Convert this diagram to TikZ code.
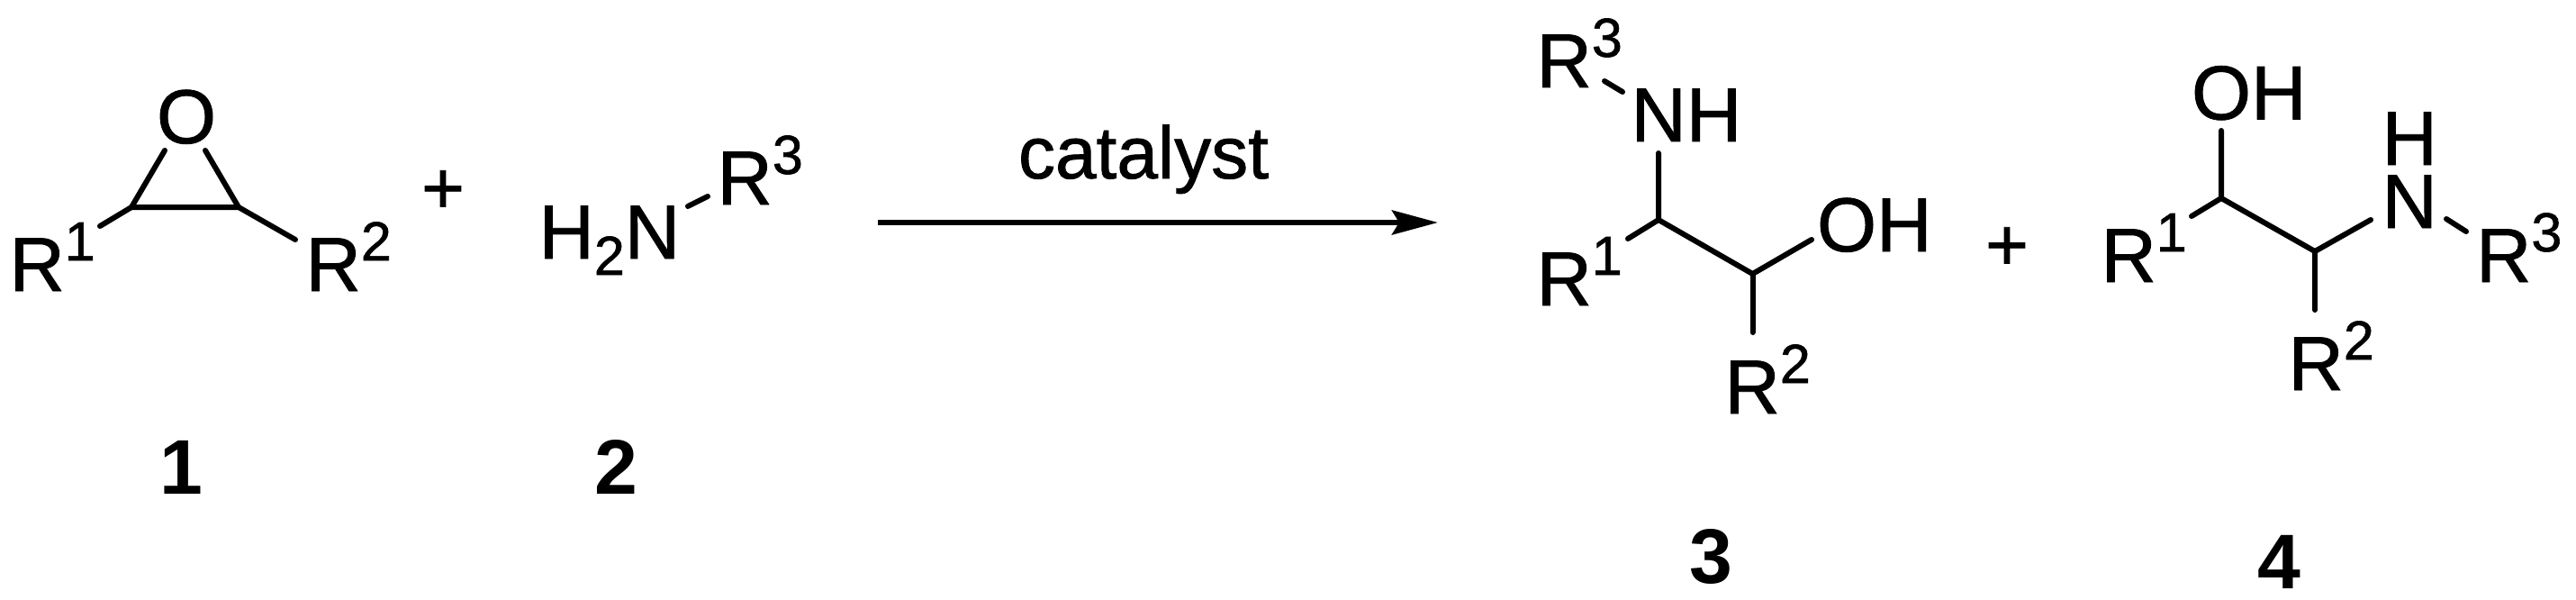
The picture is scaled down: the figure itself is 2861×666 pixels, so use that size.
\documentclass[tikz,border=0pt]{standalone}
\usepackage{fontspec}
\setmainfont{Liberation Sans}[UprightFeatures={FakeBold=1}]
\usetikzlibrary{arrows.meta}
\newcommand{\Rgroup}[1]{R\raisebox{34pt}{\fontsize{61pt}{61pt}\selectfont #1}}
\tikzset{
  atom/.style={inner sep=0pt,outer sep=0pt,anchor=base west,font=\fontsize{85pt}{85pt}\selectfont},
  rxnlabel/.style={inner sep=0pt,outer sep=0pt,anchor=base west,font=\fontsize{82pt}{82pt}\selectfont},
  cpdlabel/.style={inner sep=0pt,outer sep=0pt,anchor=base,font=\fontsize{86pt}{86pt}\selectfont\bfseries},
  plussign/.style={inner sep=0pt,outer sep=0pt,anchor=center,font=\fontsize{82pt}{82pt}\selectfont},
  bond/.style={draw=black,line width=6pt,line cap=round,line join=round},
  rxnarrow/.style={draw=black,line width=6pt,-{Stealth[length=51pt,width=27pt,inset=8pt]}}
}
\begin{document}
\begin{tikzpicture}[x=1pt,y=-1pt]
\useasboundingbox (0,0) rectangle (2861,666);
\fill[white] (0,0) rectangle (2861,666);
% ---- compound 1
\node[atom] (o1) at (174,159) {O};
\node[atom] (r1a) at (10.5,323) {\Rgroup{1}};
\node[atom] (r2a) at (339.5,323) {\Rgroup{2}};
\coordinate (c1a) at (146,230);
\coordinate (c2a) at (265,230);
\coordinate (o1l) at (183,167);
\coordinate (o1r) at (228,167);
\coordinate (r1ae) at (111,251);
\coordinate (r2ae) at (328,266);
\draw[bond] (o1l) -- (c1a) -- (c2a) -- (o1r);
\draw[bond] (c1a) -- (r1ae);
\draw[bond] (c2a) -- (r2ae);
\node[cpdlabel] (l1) at (201,548) {1};
% ---- plus 1
\node[plussign] (p1) at (492,213) {+};
% ---- compound 2
\node[atom] (h2n) at (598.5,287) {H\raisebox{-18pt}{\fontsize{61pt}{61pt}\selectfont 2}N};
\node[atom] (r3b) at (796.5,227) {\Rgroup{3}};
\coordinate (nb) at (764,229);
\coordinate (rb) at (786,218);
\draw[bond] (nb) -- (rb);
\node[cpdlabel] (l2) at (684,548) {2};
% ---- arrow
\coordinate (as) at (975,247);
\coordinate (ae) at (1597,247);
\draw[rxnarrow] (as) -- (ae);
\node[rxnlabel] (cat) at (1131,198) {catalyst};
% ---- compound 3
\node[atom] (r3c) at (1706.5,97) {\Rgroup{3}};
\node[atom] (nhc) at (1811.5,157) {NH};
\node[atom] (ohc) at (2018,279) {OH};
\node[atom] (r1c) at (1706.5,339) {\Rgroup{1}};
\node[atom] (r2c) at (1915.5,459) {\Rgroup{2}};
\coordinate (c1c) at (1842,244);
\coordinate (c2c) at (1946.5,304);
\coordinate (nce) at (1842,170);
\coordinate (r3ce) at (1782,90);
\coordinate (r3cn) at (1802,102);
\coordinate (r1ce) at (1808,265);
\coordinate (oce) at (2012,266);
\coordinate (r2ce) at (1946.5,369);
\draw[bond] (r3ce) -- (r3cn);
\draw[bond] (nce) -- (c1c) -- (c2c) -- (oce);
\draw[bond] (c1c) -- (r1ce);
\draw[bond] (c2c) -- (r2ce);
\node[cpdlabel] (l3) at (1900,647) {3};
% ---- plus 2
\node[plussign] (p2) at (2229,276) {+};
% ---- compound 4
\node[atom] (ohd) at (2434,132.5) {OH};
\node[atom] (hd) at (2645.5,183) {H};
\node[atom] (nd) at (2645.5,253) {N};
\node[atom] (r1d) at (2333.5,313) {\Rgroup{1}};
\node[atom] (r2d) at (2541.5,433) {\Rgroup{2}};
\node[atom] (r3d) at (2750,313) {\Rgroup{3}};
\coordinate (c1d) at (2467,220);
\coordinate (c2d) at (2571,279);
\coordinate (ode) at (2467,145);
\coordinate (r1de) at (2434,240);
\coordinate (nde) at (2633,244);
\coordinate (r2de) at (2571,344);
\coordinate (nd3) at (2717,243);
\coordinate (rd3) at (2739,257);
\draw[bond] (ode) -- (c1d) -- (c2d) -- (nde);
\draw[bond] (c1d) -- (r1de);
\draw[bond] (c2d) -- (r2de);
\draw[bond] (nd3) -- (rd3);
\node[cpdlabel] (l4) at (2531,653) {4};
\end{tikzpicture}
\end{document}
